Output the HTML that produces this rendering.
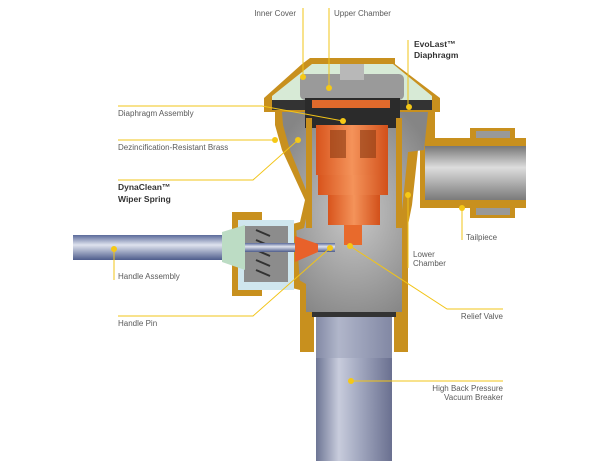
<!DOCTYPE html>
<html><head><meta charset="utf-8"><style>
html,body{margin:0;padding:0;background:#fff}
svg{display:block}
text{font-family:"Liberation Sans",sans-serif;font-size:8px;fill:#5a5a5a}
.b{font-weight:bold;fill:#333;font-size:8.5px}
.l{stroke:#f2c418;stroke-width:1;fill:none}
.d{fill:#f5c816}
</style></head><body>
<svg width="600" height="461" viewBox="0 0 600 461" xmlns="http://www.w3.org/2000/svg">
<defs>
<linearGradient id="pipe" x1="0" x2="1"><stop offset="0" stop-color="#6d7594"/><stop offset=".3" stop-color="#c8ccdc"/><stop offset=".55" stop-color="#a5abc2"/><stop offset="1" stop-color="#6a7090"/></linearGradient>
<linearGradient id="rod" x1="0" y1="0" x2="0" y2="1"><stop offset="0" stop-color="#5a6a9a"/><stop offset=".4" stop-color="#dfe3ee"/><stop offset="1" stop-color="#4e5d8c"/></linearGradient>
<linearGradient id="tail" x1="0" y1="0" x2="0" y2="1"><stop offset="0" stop-color="#777"/><stop offset=".4" stop-color="#ddd"/><stop offset="1" stop-color="#7a7a7a"/></linearGradient>
<radialGradient id="body" cx=".5" cy=".5" r=".6"><stop offset="0" stop-color="#c8c8c8"/><stop offset="1" stop-color="#858585"/></radialGradient>
<linearGradient id="org" x1="0" x2="1"><stop offset="0" stop-color="#d8541c"/><stop offset=".5" stop-color="#f4935a"/><stop offset="1" stop-color="#d2501a"/></linearGradient>
</defs>
<!-- bottom pipe -->
<rect x="316" y="316" width="76" height="145" fill="url(#pipe)"/>
<rect x="316" y="316" width="76" height="42" fill="#9aa0b8" opacity=".5"/>
<!-- threaded collar -->
<rect x="300" y="290" width="14" height="62" fill="#c8901e"/>
<rect x="394" y="290" width="14" height="62" fill="#c8901e"/>
<rect x="312" y="312" width="84" height="5" fill="#333"/>
<!-- tailpiece -->
<rect x="420" y="138" width="106" height="70" fill="#c8901e"/>
<rect x="425" y="146" width="101" height="54" fill="url(#tail)"/>
<rect x="470" y="128" width="45" height="12" fill="#c8901e"/>
<rect x="476" y="131" width="34" height="7" fill="#999"/>
<rect x="470" y="206" width="45" height="12" fill="#c8901e"/>
<rect x="476" y="208" width="34" height="7" fill="#999"/>
<!-- main body -->
<path d="M275 110 L435 110 L435 140 L418 150 L412 205 L408 225 L408 300 L300 300 L300 290 L280 285 L270 230 L300 222 L305 200 L282 150 L275 125 Z" fill="#c8901e"/>
<path d="M282 112 L428 112 L424 150 L408 152 L402 210 L402 312 L306 312 L306 284 L292 276 L280 236 L304 228 L310 200 L290 150 L283 125 Z" fill="url(#body)"/>
<!-- cap -->
<path d="M310 58 L395 58 L395 64 L440 98 L440 112 L264 112 L264 98 L302 64 Z" fill="#c8901e"/>
<path d="M312 64 L393 64 L432 96 L432 106 L272 106 L272 96 Z" fill="#d7ead6"/>
<rect x="300" y="74" width="104" height="26" rx="5" fill="#9a9a9a"/>
<rect x="340" y="64" width="24" height="16" fill="#b8b8b8"/>
<rect x="272" y="100" width="160" height="10" fill="#333"/>
<rect x="305" y="98" width="95" height="30" fill="#2b2b2b"/>
<rect x="312" y="100" width="78" height="8" fill="#e06a2c"/>
<!-- orange column -->
<rect x="316" y="125" width="72" height="50" fill="url(#org)"/>
<rect x="330" y="130" width="16" height="28" fill="#8a3a12" opacity=".6"/>
<rect x="360" y="130" width="16" height="28" fill="#8a3a12" opacity=".6"/>
<rect x="318" y="175" width="70" height="20" fill="url(#org)"/>
<rect x="328" y="195" width="52" height="30" fill="url(#org)"/>
<rect x="344" y="225" width="18" height="20" fill="#e86a2c"/>
<rect x="306" y="118" width="6" height="110" fill="#c8901e"/>
<rect x="396" y="118" width="6" height="110" fill="#c8901e"/>
<!-- handle housing -->
<path d="M232 212 L262 212 L262 220 L296 226 L300 284 L262 290 L262 296 L232 296 Z" fill="#c8901e"/>
<rect x="238" y="220" width="56" height="70" fill="#cfe6ee"/>
<rect x="244" y="226" width="44" height="56" fill="#8c8c8c"/>
<path d="M256 230 L270 236 M256 240 L270 246 M256 250 L270 256 M256 260 L270 266 M256 270 L270 276" stroke="#333" stroke-width="2"/>
<!-- handle rod -->
<rect x="73" y="235" width="160" height="25" fill="url(#rod)"/>
<path d="M222 232 L245 225 L245 270 L222 262 Z" fill="#bcdcc4"/>
<rect x="245" y="243" width="90" height="9" fill="url(#rod)"/>
<path d="M295 236 L318 244 L318 252 L295 262 Z" fill="#e8612a"/>
<!-- leaders -->
<path class="l" d="M303 8 V77 M329 8 V88 M408 40 V107 M118 106 H262 L343 121 M118 140 H275 M118 180 H253 L298 140 M114 249 V280 M118 316 H253 L330 248 M462 208 V240 M408 195 V268 M350 246 L447 309 H503 M351 381 H503"/>
<g class="d">
<circle cx="303" cy="77" r="3"/><circle cx="329" cy="88" r="3"/><circle cx="409" cy="107" r="3"/>
<circle cx="343" cy="121" r="3"/><circle cx="275" cy="140" r="3"/><circle cx="298" cy="140" r="3"/>
<circle cx="114" cy="249" r="3"/><circle cx="330" cy="248" r="3"/><circle cx="350" cy="246" r="3"/>
<circle cx="462" cy="208" r="3"/><circle cx="408" cy="195" r="3"/><circle cx="351" cy="381" r="3"/>
</g>
<text x="296" y="16" text-anchor="end">Inner Cover</text>
<text x="334" y="16">Upper Chamber</text>
<text class="b" x="414" y="47">EvoLast™</text>
<text class="b" x="414" y="58">Diaphragm</text>
<text x="118" y="116">Diaphragm Assembly</text>
<text x="118" y="150">Dezincification-Resistant Brass</text>
<text class="b" x="118" y="190">DynaClean™</text>
<text class="b" x="118" y="202">Wiper Spring</text>
<text x="118" y="279">Handle Assembly</text>
<text x="118" y="326">Handle Pin</text>
<text x="466" y="240">Tailpiece</text>
<text x="413" y="257">Lower</text>
<text x="413" y="266">Chamber</text>
<text x="503" y="319" text-anchor="end">Relief Valve</text>
<text x="503" y="391" text-anchor="end">High Back Pressure</text>
<text x="503" y="400" text-anchor="end">Vacuum Breaker</text>
</svg>
</body></html>
